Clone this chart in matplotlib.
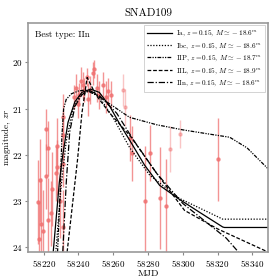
import numpy as np
import matplotlib
matplotlib.use("Agg")
import matplotlib.pyplot as plt

plt.rcParams["font.family"] = "serif"
plt.rcParams["font.serif"] = ["cmr10", "DejaVu Serif"]
plt.rcParams["mathtext.fontset"] = "cm"
plt.rcParams["axes.formatter.use_mathtext"] = True

# -----------------------------
# Observations (MJD, mag, err)
# -----------------------------
obs_mjd = [58216.6, 58217.5, 58217.9, 58218.5, 58219.8, 58221.3, 58221.5,
           58222.3, 58222.7, 58224.2, 58224.6, 58227.1, 58227.5, 58227.6,
           58229.5, 58231.0, 58231.0, 58231.3, 58231.0,
           58237.5, 58238.5, 58239.5, 58240.5, 58241.5, 58242.4, 58243.4,
           58244.9, 58245.5, 58246.5, 58248.2, 58249.1, 58250.5, 58252.0,
           58254.0, 58255.7, 58256.8, 58258.5,
           58269.4, 58271.0, 58278.0, 58281.0, 58287.0, 58290.5, 58320.0]
obs_mag = [23.02, 23.82, 22.55, 23.50, 23.65, 22.46, 21.45,
           21.86, 23.40, 23.26, 22.73, 22.40, 21.80, 22.27,
           23.00, 21.18, 21.58, 23.56, 22.20,
           20.75, 20.55, 20.90, 20.70, 20.40, 20.50, 20.60,
           20.32, 20.80, 20.60, 20.24, 20.15, 20.55, 20.70,
           20.50, 20.75, 20.63, 20.70,
           21.64, 21.97, 23.00, 21.96, 22.94, 23.10, 22.10]
obs_err = [0.9, 0.8, 0.9, 1.0, 0.9, 0.7, 0.45,
           0.6, 0.9, 0.7, 0.8, 0.6, 0.6, 0.6,
           0.8, 0.5, 0.5, 0.8, 0.5,
           0.25, 0.3, 0.3, 0.25, 0.3, 0.3, 0.25,
           0.2, 0.35, 0.3, 0.25, 0.2, 0.3, 0.3,
           0.3, 0.35, 0.3, 0.3,
           0.5, 0.6, 1.2, 0.6, 1.1, 1.0, 0.9]

pale_mjd = [58265.6, 58266.5, 58292.8, 58298.7]
pale_mag = [20.60, 20.97, 21.88, 21.55]
pale_err = [0.35, 0.40, 0.50, 0.30]

# -----------------------------
# Model curves
# -----------------------------
ia_mjd = [58225.5, 58229, 58231, 58234, 58238, 58242, 58247, 58252, 58258,
          58264, 58269.4, 58278, 58286.7, 58298, 58310, 58323, 58324, 58349]
ia_mag = [24.1, 22.6, 22.0, 21.3, 20.85, 20.65, 20.58, 20.65, 20.95,
          21.35, 21.68, 22.22, 22.66, 22.96, 23.25, 23.56, 23.57, 23.57]

ibc_mjd = [58227, 58230, 58233, 58237, 58241, 58246, 58252, 58260,
           58269.4, 58281, 58298, 58323, 58349]
ibc_mag = [24.1, 22.7, 21.7, 21.0, 20.72, 20.62, 20.75, 21.2,
           21.84, 22.44, 22.94, 23.39, 23.39]

iip_mjd = [58228, 58229.5, 58230.5, 58231.5, 58233, 58236, 58240, 58244,
           58250, 58260, 58269.4, 58285, 58300, 58315, 58327, 58337, 58349]
iip_mag = [24.1, 22.8, 21.6, 21.0, 20.8, 20.68, 20.62, 20.6,
           20.7, 20.95, 21.19, 21.35, 21.46, 21.55, 21.62, 21.85, 22.3]

iil_mjd = [58233.5, 58236.5, 58239.5, 58242, 58245, 58250, 58258,
           58270, 58285, 58301, 58320, 58349]
iil_mag = [24.1, 23.1, 22.1, 21.1, 20.33, 20.7, 21.1,
           21.6, 22.4, 23.2, 23.6, 24.1]

iin_mjd = [58231, 58233, 58235, 58238, 58242, 58246, 58252, 58262,
           58272, 58285, 58300, 58315, 58325, 58332]
iin_mag = [24.1, 22.6, 21.5, 20.95, 20.7, 20.6, 20.72, 21.1,
           21.7, 22.4, 23.05, 23.5, 23.8, 24.1]

models = [
    (ia_mjd, ia_mag, "-", r"Ia, $z=0.15$, $M\simeq-18.6^m$"),
    (ibc_mjd, ibc_mag, (0, (1, 1.3)), r"Ibc, $z=0.15$, $M\simeq-18.6^m$"),
    (iip_mjd, iip_mag, (0, (3, 1, 1, 1, 1, 1)), r"IIP, $z=0.15$, $M\simeq-18.7^m$"),
    (iil_mjd, iil_mag, (0, (3, 1.5)), r"IIL, $z=0.15$, $M\simeq-18.9^m$"),
    (iin_mjd, iin_mag, (0, (5, 1.5, 1, 1.5)), r"IIn, $z=0.15$, $M\simeq-18.6^m$"),
]

# -----------------------------
# Plot
# -----------------------------
fig = plt.figure(figsize=(2.8, 2.8), dpi=100)
ax = fig.add_axes([0.1, 0.1, 0.857, 0.818])

ax.errorbar(obs_mjd, obs_mag, yerr=obs_err, fmt="o", color="#f07070",
            ms=2.2, elinewidth=1.0, alpha=0.75, capsize=0, zorder=1)
ax.errorbar(pale_mjd, pale_mag, yerr=pale_err, fmt="o", color="#f07070",
            ms=2.2, elinewidth=1.0, alpha=0.4, capsize=0, zorder=1)

for mjd, mag, ls, label in models:
    ax.plot(mjd, mag, ls=ls, color="black", lw=0.9, label=label, zorder=2)

ax.set_xlim(58211, 58349)
ax.set_ylim(24.1, 19.15)
ax.set_xticks([58220, 58240, 58260, 58280, 58300, 58320, 58340])
ax.set_yticks([20, 21, 22, 23, 24])
ax.tick_params(labelsize=6.5, length=2.5, color="#888888", pad=1.5)

for s in ax.spines.values():
    s.set_color("#999999")
    s.set_linewidth(1.2)

ax.set_xlabel("MJD", fontsize=7, labelpad=1)
ax.set_ylabel(r"magnitude, $zr$", fontsize=6.5)
ax.yaxis.set_label_coords(-0.062, 0.5)
ax.set_title("SNAD109", fontsize=8, pad=5)

ax.text(0.03, 0.965, "Best type: IIn", transform=ax.transAxes,
        fontsize=6.5, va="top", ha="left")

leg = ax.legend(loc="upper right", fontsize=5.2, handlelength=3.4,
                borderpad=0.45, labelspacing=0.4, handletextpad=0.6,
                fancybox=False, framealpha=1, borderaxespad=0.35)
leg.get_frame().set_edgecolor("#cccccc")
leg.get_frame().set_linewidth(0.6)

plt.savefig("out.png", dpi=100)
plt.close()
